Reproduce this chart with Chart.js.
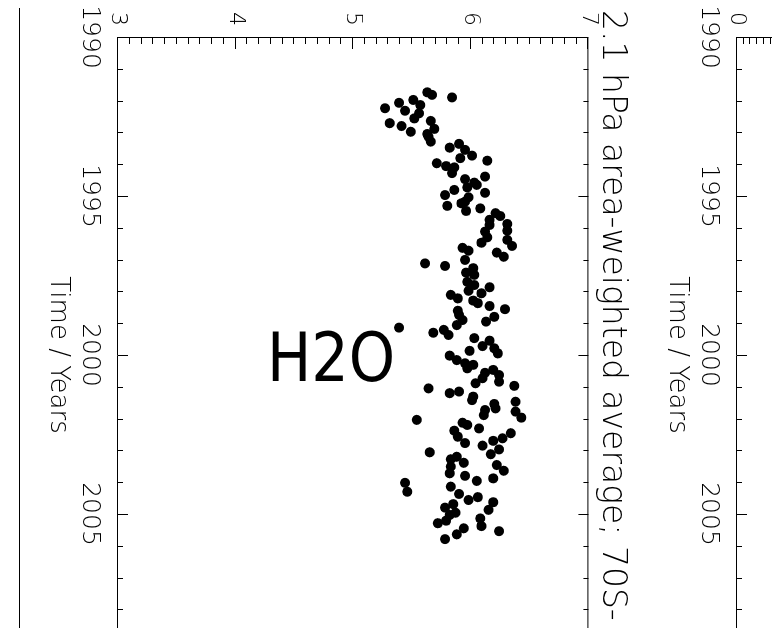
<!DOCTYPE html>
<html>
<head>
<meta charset="utf-8">
<script src="https://cdn.jsdelivr.net/npm/chart.js@4.4.0/dist/chart.umd.min.js"></script>
<style>
html, body { margin: 0; padding: 0; background: #fff; }
#page { position: relative; width: 772px; height: 628px; overflow: hidden; background: #fff; }
/* the figure is drawn upright and then turned a quarter clockwise */
#turn { position: absolute; left: 0; top: 0; width: 700px; height: 772px; transform-origin: 0 0; transform: translate(772px, 0) rotate(90deg); }
#c1 { position: absolute; left: 0; top: 0; }
#c2 { position: absolute; left: 0; top: -500px; }
#edge { position: absolute; left: 19px; top: 8px; width: 1px; height: 620px; background: #000; }
#species { position: absolute; left: 267px; top: 325px; font: 67px/1 "DejaVu Sans", sans-serif; color: #000; transform: scaleX(0.88); transform-origin: 0 0; white-space: nowrap; }
</style>
</head>
<body>
<div id="page">
  <div id="turn">
    <canvas id="c2" width="700" height="640"></canvas>
    <canvas id="c1" width="700" height="772"></canvas>
  </div>
  <div id="edge"></div>
  <div id="species">H2O</div>
</div>
<script>
const years = [
	1991.74, 1991.82, 1991.90, 1991.98, 1992.07, 1992.14, 1992.24, 1992.32, 1992.40, 1992.56,
	1992.64, 1992.71, 1992.80, 1992.89, 1992.98, 1993.05, 1993.14, 1993.29, 1993.36, 1993.48,
	1993.55, 1993.73, 1993.81, 1993.89, 1993.97, 1994.06, 1994.10, 1994.28, 1994.39, 1994.47,
	1994.58, 1994.65, 1994.73, 1994.81, 1994.90, 1994.97, 1995.04, 1995.18, 1995.23, 1995.31,
	1995.39, 1995.47, 1995.54, 1995.63, 1995.75, 1995.88, 1995.91, 1996.09, 1996.12, 1996.30,
	1996.38, 1996.47, 1996.57, 1996.63, 1996.72, 1996.78, 1996.91, 1997.01, 1997.12, 1997.20,
	1997.27, 1997.41, 1997.48, 1997.70, 1997.80, 1997.87, 1997.98, 1998.06, 1998.11, 1998.22,
	1998.29, 1998.37, 1998.46, 1998.56, 1998.61, 1998.74, 1998.80, 1998.90, 1998.95, 1999.06,
	1999.14, 1999.21, 1999.30, 1999.37, 1999.47, 1999.55, 1999.72, 1999.79, 1999.87, 1999.95,
	2000.02, 2000.16, 2000.26, 2000.31, 2000.42, 2000.47, 2000.56, 2000.63, 2000.73, 2000.84,
	2000.89, 2000.97, 2001.05, 2001.15, 2001.20, 2001.31, 2001.42, 2001.47, 2001.54, 2001.68,
	2001.73, 2001.78, 2001.89, 2001.97, 2002.04, 2002.13, 2002.20, 2002.31, 2002.38, 2002.46,
	2002.57, 2002.62, 2002.70, 2002.77, 2002.85, 2002.97, 2003.06, 2003.12, 2003.20, 2003.28,
	2003.39, 2003.46, 2003.51, 2003.64, 2003.72, 2003.80, 2003.88, 2003.96, 2004.02, 2004.14,
	2004.30, 2004.37, 2004.47, 2004.56, 2004.63, 2004.69, 2004.80, 2004.87, 2004.96, 2005.03,
	2005.14, 2005.21, 2005.29, 2005.38, 2005.45, 2005.54, 2005.64, 2005.79
]

const h2o = [
	5.63, 5.67, 5.84, 5.51, 5.39, 5.57, 5.27, 5.44, 5.56, 5.52,
	5.66, 5.31, 5.41, 5.69, 5.49, 5.63, 5.64, 5.66, 5.90, 5.82,
	5.95, 6.01, 5.91, 6.14, 5.71, 5.79, 5.86, 5.84, 6.12, 5.95,
	6.03, 6.05, 5.97, 5.86, 6.12, 5.78, 5.98, 5.95, 5.92, 5.80,
	6.08, 5.96, 6.21, 6.25, 6.16, 6.31, 6.16, 6.31, 6.12, 6.14,
	6.31, 6.09, 6.35, 5.93, 5.98, 6.22, 6.28, 5.95, 5.61, 5.78,
	6.02, 5.96, 6.03, 5.97, 6.03, 6.16, 5.98, 6.09, 5.83, 5.89,
	6.02, 6.06, 6.16, 6.29, 5.89, 5.90, 6.20, 5.93, 6.13, 5.88,
	5.39, 5.77, 5.68, 5.81, 6.03, 6.16, 6.10, 6.20, 5.99, 6.23,
	5.82, 5.88, 5.95, 6.02, 5.97, 6.19, 6.12, 6.24, 6.10, 6.24,
	6.04, 6.37, 5.64, 5.90, 5.82, 6.02, 6.01, 6.38, 6.20, 6.21,
	6.12, 6.38, 6.11, 6.43, 5.54, 5.93, 5.97, 6.07, 5.86, 6.34,
	5.89, 6.27, 6.19, 5.95, 6.10, 6.24, 5.65, 6.17, 5.88, 5.83,
	5.94, 6.22, 5.83, 6.28, 5.82, 5.95, 6.19, 6.05, 5.44, 5.83,
	5.46, 5.90, 6.06, 5.98, 6.19, 5.85, 5.78, 6.15, 5.87, 5.82,
	6.08, 5.79, 5.72, 6.09, 5.94, 6.24, 5.88, 5.78
]

const timeTicks = [1990, 1995, 2000, 2005]
const valueTicks = [3, 4, 5, 6, 7]
const upperTicks = [0]

const titleText = "2.1 hPa area-weighted average; 70S-"
const timeTitle = "Time / Years"

const points = years.map((t, i) => ({x: t, y: h2o[i]}))

const fontFamily = "'DejaVu Sans', sans-serif"
const ink = "#000"

// IDL style box: frame plus ticks pointing into the plot on every side
const innerTicks = {
	id: "innerTicks",
	afterDraw(chart, args, opts) {
		const {ctx, chartArea} = chart
		const {left, right, top, bottom} = chartArea
		const xs = chart.scales.x
		const ys = chart.scales.y
		ctx.save()
		ctx.strokeStyle = "#000"
		ctx.lineWidth = 1
		ctx.beginPath()
		ctx.rect(left + 0.5, top + 0.5, right - left, bottom - top)

		for (let i = 0; ; i++) {
			const v = xs.min + i * opts.xMinor
			if (v > xs.max + 1e-6) break
			const major = Math.abs((v - xs.min) / opts.xMajor - Math.round((v - xs.min) / opts.xMajor)) < 1e-6
			const len = major ? 10 : 5
			const px = Math.round(xs.getPixelForValue(v)) + 0.5
			ctx.moveTo(px, bottom); ctx.lineTo(px, bottom - len)
			ctx.moveTo(px, top); ctx.lineTo(px, top + len)
		}
		for (let i = 0; ; i++) {
			const v = ys.min + i * opts.yMinor
			if (v > ys.max + 1e-6) break
			const major = Math.abs((v - ys.min) / opts.yMajor - Math.round((v - ys.min) / opts.yMajor)) < 1e-6
			const len = major ? 12 : 7
			const py = Math.round(ys.getPixelForValue(v)) + 0.5
			ctx.moveTo(left, py); ctx.lineTo(left + len, py)
			ctx.moveTo(right, py); ctx.lineTo(right - len, py)
		}
		ctx.stroke()
		ctx.restore()
	}
}

function timeAxis(height, titleBottom) {
	return {
		type: "linear",
		position: "bottom",
		min: 1990,
		max: 2010,
		grid: {display: false, drawTicks: false},
		border: {display: false},
		afterBuildTicks: s => { s.ticks = timeTicks.map(v => ({value: v})) },
		afterFit: s => {
			s.height = height
			s.paddingLeft = 0
			s.paddingRight = 0
		},
		ticks: {
			color: ink,
			padding: 13,
			maxRotation: 0,
			font: {family: fontFamily, size: 25, weight: 200},
			callback: v => String(v)
		},
		title: {
			display: true,
			text: timeTitle,
			color: ink,
			font: {family: fontFamily, size: 26, weight: 200},
			padding: {top: 0, bottom: titleBottom}
		}
	}
}

function valueAxis(min, max, labels) {
	return {
		type: "linear",
		position: "left",
		min: min,
		max: max,
		grid: {display: false, drawTicks: false},
		border: {display: false},
		afterBuildTicks: s => { s.ticks = labels.map(v => ({value: v})) },
		afterFit: s => {
			s.width = 27
			s.paddingTop = 0
			s.paddingBottom = 0
		},
		ticks: {
			color: ink,
			padding: 11,
			font: {family: fontFamily, size: 22, weight: 200},
			callback: v => String(v)
		}
	}
}

Chart.defaults.font.family = fontFamily

new Chart(document.getElementById("c1"), {
	type: "scatter",
	data: {
		datasets: [{
			label: "H2O",
			data: points,
			backgroundColor: "#000",
			borderWidth: 0,
			pointRadius: 5,
			pointHoverRadius: 5
		}]
	},
	options: {
		responsive: false,
		animation: false,
		devicePixelRatio: 1,
		layout: {padding: {left: 10, top: 136, right: 27, bottom: 0}},
		plugins: {
			legend: {display: false},
			tooltip: {enabled: false},
			title: {
				display: true,
				text: titleText,
				align: "start",
				color: ink,
				font: {family: fontFamily, size: 33, weight: 200},
				padding: {top: 5, bottom: 3}
			},
			innerTicks: {xMinor: 1, xMajor: 5, yMinor: 0.1, yMajor: 1}
		},
		scales: {
			x: timeAxis(118, 42),
			y: valueAxis(3, 7, valueTicks)
		}
	},
	plugins: [innerTicks]
})

// upper panel, only its bottom edge shows in the picture
new Chart(document.getElementById("c2"), {
	type: "scatter",
	data: {datasets: [{label: "upper", data: []}]},
	options: {
		responsive: false,
		animation: false,
		devicePixelRatio: 1,
		layout: {padding: {left: 10, top: 65, right: 27, bottom: 0}},
		plugins: {
			legend: {display: false},
			tooltip: {enabled: false},
			innerTicks: {xMinor: 1, xMajor: 5, yMinor: 1, yMajor: 10}
		},
		scales: {
			x: timeAxis(105, 29),
			y: valueAxis(0, 70, upperTicks)
		}
	},
	plugins: [innerTicks]
})
</script>
</body>
</html>
